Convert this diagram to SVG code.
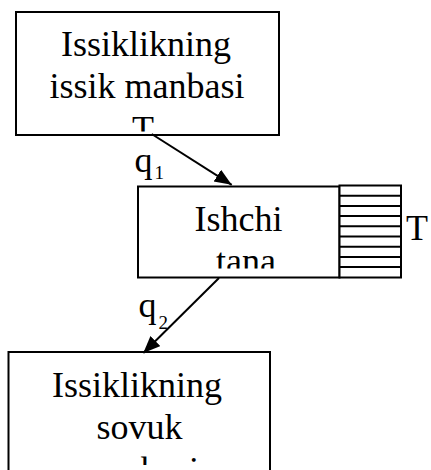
<svg xmlns="http://www.w3.org/2000/svg" width="431" height="470" viewBox="0 0 431 470">
  <style>
    .box { fill: #fff; stroke: #000; stroke-width: 2; }
    text { font-family: "Liberation Serif", "DejaVu Serif", "Times New Roman", serif; font-size: 36px; fill: #000; }
    .sub { font-size: 19px; }
    .hatch { stroke: #000; stroke-width: 2; }
    .edge { stroke: #000; stroke-width: 2; fill: none; marker-end: url(#head); }
  </style>
  <defs>
    <marker id="head" markerUnits="userSpaceOnUse" markerWidth="20" markerHeight="16" refX="17" refY="7" orient="auto">
      <path d="M0,0 L17,7 L0,14 Z" fill="#000"/>
    </marker>
    <clipPath id="clipHot"><rect x="16" y="12" width="263" height="119.5"/></clipPath>
    <clipPath id="clipBody"><rect x="138" y="186.5" width="201.5" height="82"/></clipPath>
    <clipPath id="clipCold"><rect x="8.5" y="352" width="261.5" height="113"/></clipPath>
  </defs>

  <!-- hot reservoir -->
  <g id="hot">
    <rect class="box" x="16" y="12" width="263" height="123"/>
    <g clip-path="url(#clipHot)">
      <text x="146" y="56" text-anchor="middle">Issiklikning</text>
      <text x="147" y="97.5" text-anchor="middle">issik manbasi</text>
      <text x="143" y="141" text-anchor="middle">T</text>
    </g>
  </g>

  <!-- working body with its hatched element -->
  <g id="body">
    <rect class="box" x="138" y="186.5" width="201.5" height="91"/>
    <g clip-path="url(#clipBody)">
      <text x="238.5" y="231" text-anchor="middle">Ishchi</text>
      <text x="246" y="273" text-anchor="middle">tana</text>
    </g>
    <rect class="box" x="339.5" y="185.5" width="61.5" height="92"/>
    <g class="hatch">
      <line x1="339.5" y1="195.7" x2="401" y2="195.7"/>
      <line x1="339.5" y1="205.9" x2="401" y2="205.9"/>
      <line x1="339.5" y1="216.1" x2="401" y2="216.1"/>
      <line x1="339.5" y1="226.3" x2="401" y2="226.3"/>
      <line x1="339.5" y1="236.5" x2="401" y2="236.5"/>
      <line x1="339.5" y1="246.7" x2="401" y2="246.7"/>
      <line x1="339.5" y1="256.9" x2="401" y2="256.9"/>
      <line x1="339.5" y1="267.1" x2="401" y2="267.1"/>
    </g>
    <text x="406" y="240">T</text>
  </g>

  <!-- cold reservoir -->
  <g id="cold">
    <rect class="box" x="8.5" y="352" width="261.5" height="130"/>
    <g clip-path="url(#clipCold)">
      <text x="137" y="397" text-anchor="middle">Issiklikning</text>
      <text x="139.5" y="439" text-anchor="middle">sovuk</text>
      <text x="139" y="482" text-anchor="middle">manbasi</text>
    </g>
  </g>

  <!-- heat flows -->
  <g id="connectors">
    <line class="edge" x1="151.7" y1="134" x2="231.7" y2="184.8"/>
    <line class="edge" x1="219" y1="278" x2="143.3" y2="353"/>
    <text x="134.5" y="171.7">q<tspan class="sub" dx="2" dy="7.6">1</tspan></text>
    <text x="138.5" y="316.7">q<tspan class="sub" dx="2" dy="12">2</tspan></text>
  </g>
</svg>
